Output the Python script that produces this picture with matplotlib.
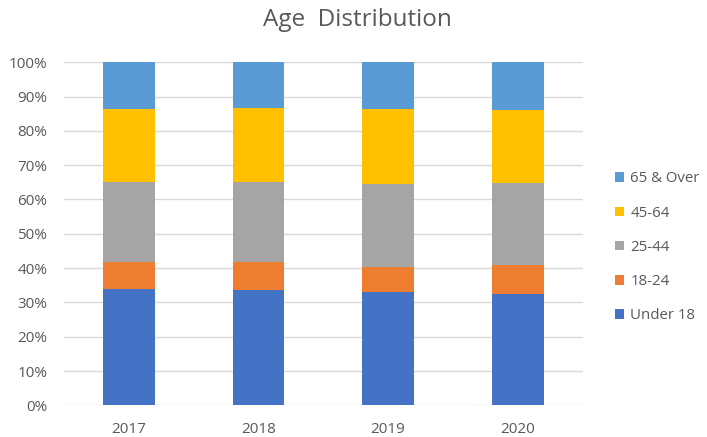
import matplotlib.pyplot as plt
import numpy as np

# Data (percent of total)
years = ['2017', '2018', '2019', '2020']
under_18 = [33.9, 33.6, 32.9, 32.4]
age_18_24 = [8.0, 8.3, 7.4, 8.5]
age_25_44 = [23.1, 23.1, 24.1, 23.8]
age_45_64 = [21.4, 21.7, 22.0, 21.4]
age_65_over = [13.6, 13.3, 13.6, 13.9]

series = [('Under 18', under_18, '#4472C4'),
          ('18-24', age_18_24, '#ED7D31'),
          ('25-44', age_25_44, '#A5A5A5'),
          ('45-64', age_45_64, '#FFC000'),
          ('65 & Over', age_65_over, '#5B9BD5')]

plt.rcParams['font.family'] = ['Open Sans', 'DejaVu Sans']
text_color = '#595959'

fig = plt.figure(figsize=(7.07, 4.37), dpi=100)
ax = fig.add_axes([0.0905, 0.0725, 0.7336, 0.785])

x = np.arange(len(years))
bottom = np.zeros(len(years))
handles = []
for name, vals, color in series:
    b = ax.bar(x, vals, bottom=bottom, width=0.4, color=color, label=name, zorder=3)
    handles.append(b)
    bottom += np.array(vals)

ax.set_xlim(-0.5, len(years) - 0.5)
ax.set_ylim(0, 100)
ax.set_yticks(np.arange(0, 101, 10))
ax.set_yticklabels([f'{v}%' for v in range(0, 101, 10)])
ax.set_xticks(x)
ax.set_xticklabels(years)
ax.yaxis.grid(True, color='#D9D9D9', linewidth=1, zorder=0)
ax.tick_params(length=0, colors=text_color, labelsize=11)
ax.tick_params(axis='y', pad=12)
ax.tick_params(axis='x', pad=12)
for s in ax.spines.values():
    s.set_visible(False)

fig.text(0.505, 0.954, 'Age  Distribution', ha='center', va='center',
         fontsize=17.5, color=text_color)

fig.legend(handles[::-1], [s[0] for s in series][::-1], loc='center left',
           bbox_to_anchor=(0.851, 0.434), frameon=False, fontsize=10.8,
           labelcolor=text_color, handlelength=0.6, handleheight=0.6,
           handletextpad=0.4, labelspacing=1.28)

fig.savefig('out.png', dpi=100)
